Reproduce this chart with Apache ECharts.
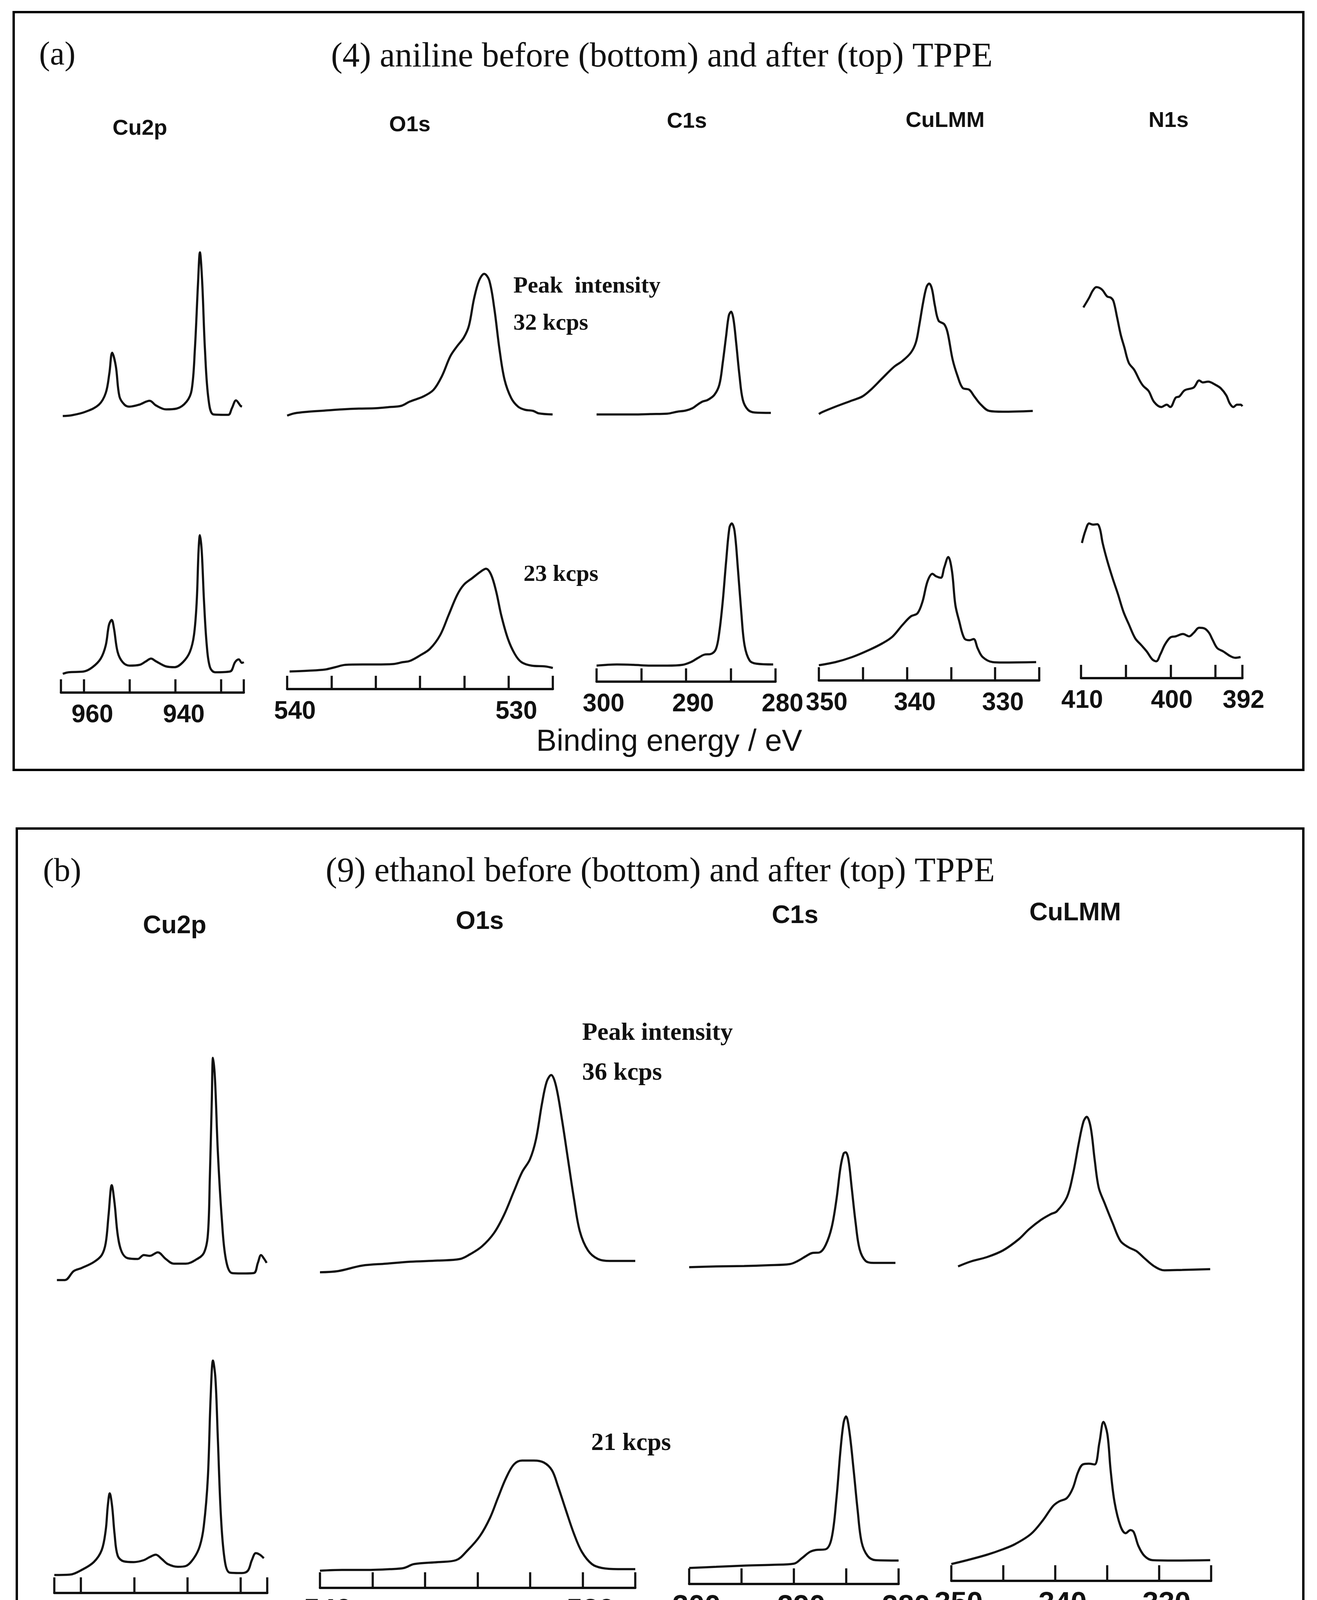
<!DOCTYPE html>
<html>
<head>
<meta charset="utf-8">
<title>XPS spectra before and after TPPE</title>
<script src="https://cdn.jsdelivr.net/npm/echarts@6.0.0/dist/echarts.min.js"></script>
<style>
  html, body { margin: 0; padding: 0; background: #fff; }
  #main { width: 3371px; height: 4363px; }
</style>
</head>
<body>
<div id="main"></div>
<script>
// ---- (a) aniline: [binding energy eV, intensity a.u.] ----
var cu2pA_after = [[964.6,35],[962.6,37],[959.6,46],[956.7,64],[955.2,94],[954.4,145],[953.8,197],[953.0,163],[952.2,85],[951.1,64],[950.0,59],[947.9,64],[945.6,74],[944.2,62],[942.0,52],[939.7,54],[937.5,72],[936.4,102],[935.7,206],[935.0,378],[934.6,454],[934.1,378],[933.5,206],[932.7,76],[931.6,39],[928.4,38],[927.6,55],[926.7,75],[925.7,61],[925.4,59]];
var cu2pA_before = [[964.6,48],[963.3,52],[960.0,54],[958.1,65],[956.3,87],[955.2,121],[954.5,173],[953.9,186],[953.4,164],[952.6,104],[951.5,78],[950.0,69],[947.8,71],[946.4,80],[945.3,87],[944.2,80],[942.0,67],[940.1,65],[938.3,78],[936.8,104],[935.9,147],[935.3,233],[934.9,362],[934.6,403],[934.2,362],[933.7,233],[933.1,121],[932.4,65],[931.3,52],[928.0,54],[926.9,78],[926.1,85],[925.4,76],[925.0,78]];
var o1sA_after = [[540.0,36],[539.66,42],[539.05,46],[538.29,49],[537.52,52],[536.76,54],[535.99,55],[535.38,58],[534.85,61],[534.46,72],[533.85,85],[533.39,102],[533.01,137],[532.63,188],[532.32,214],[532.02,236],[531.79,266],[531.56,335],[531.33,382],[531.10,399],[530.87,382],[530.64,309],[530.41,206],[530.18,128],[529.88,81],[529.57,59],[529.26,51],[528.88,48],[528.65,42],[528.01,39]];
var o1sA_before = [[539.89,45],[539.05,47],[538.29,50],[537.83,56],[537.37,62],[536.60,63],[535.99,63],[535.23,64],[534.77,69],[534.46,72],[534.00,86],[533.55,103],[533.09,138],[532.71,189],[532.32,241],[532.02,267],[531.64,284],[531.25,301],[531.02,308],[530.79,293],[530.56,250],[530.33,189],[530.03,129],[529.72,90],[529.42,69],[528.96,60],[528.35,58],[528.0,54]];
var c1sA_after = [[300.0,39],[297.74,39],[295.86,39],[293.98,40],[292.10,41],[290.98,46],[290.04,49],[289.28,55],[288.72,64],[288.16,72],[287.59,76],[286.84,89],[286.28,115],[285.90,171],[285.52,240],[285.22,292],[284.96,302],[284.70,283],[284.40,223],[284.02,137],[283.65,76],[283.08,51],[282.33,44],[280.52,43]];
var c1sA_before = [[300.0,41],[297.74,44],[295.86,43],[293.98,41],[292.10,41],[290.41,43],[289.47,50],[288.72,60],[287.97,69],[287.20,71],[286.65,84],[286.28,127],[285.90,205],[285.52,308],[285.15,394],[284.89,405],[284.58,386],[284.21,291],[283.83,179],[283.46,93],[282.89,54],[282.14,46],[280.26,44]];
var culmmA_after = [[350.0,40],[349.62,45],[348.11,59],[346.21,75],[345.07,85],[344.12,102],[342.79,132],[341.47,161],[340.52,176],[339.57,197],[339.00,223],[338.62,266],[338.17,326],[337.79,365],[337.49,374],[337.18,361],[336.84,318],[336.42,279],[335.78,270],[335.40,249],[334.83,180],[334.26,137],[333.69,107],[332.93,102],[332.36,85],[331.61,64],[330.66,48],[329.14,46],[325.73,48]];
var culmmA_before = [[350.0,39],[348.11,47],[346.21,60],[344.31,78],[342.80,95],[341.66,112],[340.52,142],[339.57,164],[338.81,172],[338.24,202],[337.67,254],[337.11,273],[336.73,267],[336.16,263],[335.78,289],[335.32,316],[334.90,280],[334.52,194],[334.07,151],[333.50,108],[332.93,103],[332.44,106],[331.98,82],[331.42,60],[330.28,47],[329.14,46],[325.35,47]];
var n1sA_after = [[409.74,313],[409.09,338],[408.69,356],[408.29,365],[407.68,359],[407.08,341],[406.68,338],[406.38,329],[405.98,288],[405.57,243],[405.17,211],[404.67,171],[404.06,153],[403.46,126],[403.06,112],[402.46,99],[401.85,71],[401.05,58],[400.44,64],[400.04,58],[399.44,82],[399.04,85],[398.43,101],[397.43,108],[396.82,126],[396.42,121],[395.82,123],[395.01,115],[394.41,106],[393.80,88],[393.40,67],[393.00,58],[392.60,64],[392.20,64],[392.0,60]];
var n1sA_before = [[409.90,346],[409.50,378],[409.09,396],[408.69,393],[408.19,394],[407.89,382],[407.59,346],[407.08,301],[406.48,256],[405.88,215],[405.27,170],[404.67,138],[403.96,102],[403.26,84],[402.66,68],[402.05,48],[401.61,43],[401.15,61],[400.64,86],[400.04,104],[399.44,107],[398.63,113],[397.93,107],[397.43,116],[396.82,129],[396.22,127],[395.72,116],[395.32,98],[394.81,77],[394.11,68],[393.40,57],[392.80,52],[392.20,54]];

// ---- (b) ethanol ----
var cu2pB_after = [[964.51,23],[963.01,23],[961.35,46],[959.85,54],[957.59,69],[956.09,87],[955.34,118],[954.81,189],[954.21,266],[953.68,220],[953.08,138],[952.33,95],[951.20,79],[949.32,77],[948.19,87],[947.07,85],[945.56,94],[944.06,77],[942.55,65],[940.30,65],[938.42,75],[936.92,92],[936.16,138],[935.79,281],[935.41,485],[935.19,592],[934.81,536],[934.28,352],[933.53,179],[932.78,77],[931.65,41],[929.77,40],[927.51,41],[926.76,67],[926.16,87],[925.56,77],[925.11,67]];
var cu2pB_before = [[965.0,46],[962.10,47],[959.85,59],[957.59,79],[956.09,110],[955.34,161],[954.96,222],[954.59,255],[954.14,222],[953.68,151],[953.08,95],[951.95,81],[950.07,79],[948.19,84],[947.07,92],[945.94,98],[944.81,87],[943.68,74],[941.80,67],[940.30,69],[938.79,89],[937.67,120],[936.92,171],[936.16,294],[935.64,498],[935.19,595],[934.73,549],[934.28,396],[933.68,192],[932.93,79],[932.03,52],[929.77,51],[928.64,57],[927.89,84],[927.14,102],[926.39,98],[925.64,89]];
var o1sB_after = [[540.0,43],[539.31,46],[538.40,60],[537.49,65],[536.57,70],[535.51,73],[534.67,77],[534.29,89],[533.84,109],[533.38,143],[533.00,189],[532.62,250],[532.31,299],[532.01,332],[531.78,383],[531.55,475],[531.37,531],[531.20,548],[531.02,521],[530.79,434],[530.56,332],[530.33,230],[530.11,148],[529.80,99],[529.42,77],[528.97,72],[528.0,72]];
var o1sB_before = [[540.0,44],[539.16,46],[538.25,46],[537.34,48],[536.80,51],[536.42,61],[535.51,66],[534.82,71],[534.37,97],[533.91,133],[533.53,179],[533.23,230],[532.92,281],[532.62,316],[532.31,326],[531.86,326],[531.48,321],[531.17,301],[530.94,260],[530.64,199],[530.33,138],[530.03,92],[529.65,61],[529.27,51],[528.66,48],[528.0,48]];
var c1sB_after = [[300.0,56],[297.42,58],[294.75,59],[292.47,61],[290.38,64],[289.62,72],[288.86,84],[288.29,92],[287.53,94],[286.96,113],[286.39,158],[285.93,230],[285.55,311],[285.25,347],[285.05,350],[284.79,332],[284.48,260],[284.10,169],[283.72,102],[283.15,72],[282.39,67],[280.30,67]];
var c1sB_before = [[300.0,41],[297.42,44],[294.75,47],[292.09,49],[290.00,52],[289.24,66],[288.48,82],[287.91,87],[286.96,89],[286.39,118],[285.93,220],[285.55,342],[285.25,413],[285.02,429],[284.71,393],[284.29,291],[283.91,189],[283.53,107],[282.96,72],[282.20,61],[280.0,60]];
var culmmB_after = [[349.35,58],[348.08,71],[346.55,82],[345.02,99],[343.49,128],[342.53,153],[341.38,177],[340.42,192],[339.85,199],[338.88,235],[338.31,291],[337.74,373],[337.28,429],[336.97,441],[336.59,414],[336.21,332],[335.82,260],[335.25,220],[334.48,169],[333.72,123],[332.95,107],[332.18,97],[331.42,79],[330.46,58],[329.50,48],[327.78,49],[325.09,51]];
var culmmB_before = [[350.0,43],[348.47,53],[346.55,67],[345.02,81],[343.87,94],[342.34,120],[341.19,155],[340.23,191],[339.65,203],[338.88,212],[338.31,237],[337.81,278],[337.35,298],[336.78,300],[336.21,298],[335.75,354],[335.36,407],[334.98,375],[334.67,283],[334.29,201],[333.72,140],[333.22,122],[332.76,130],[332.45,125],[331.99,89],[331.42,64],[330.65,53],[328.54,52],[325.09,53]];

// ---- axes: ranges, tick marks and labelled ticks ----
var cu2pRange = [925, 965], cu2pTicks = [965, 960, 950, 940, 930, 925], cu2pLabels = [960, 940];
var o1sRange = [528, 540], o1sTicks = [540, 538, 536, 534, 532, 530, 528], o1sLabels = [540, 530];
var c1sRange = [280, 300], c1sTicks = [300, 295, 290, 285, 280], c1sLabels = [300, 290, 280];
var culmmRange = [325, 350], culmmTicks = [350, 345, 340, 335, 330, 325], culmmLabels = [350, 340, 330];
var n1sRange = [392, 410], n1sTicks = [410, 405, 400, 395, 392], n1sLabels = [410, 400, 392];

var SANS = "'Liberation Sans', Arial, sans-serif";
var SERIF = "'Liberation Serif', 'Times New Roman', serif";
var INK = '#111';

var panelA = {
    topRow: { top: 600, height: 500 }, rowH: 500,
    font: 64, tickLen: 34, margin: 26,
    cols: [
        { after: cu2pA_after, before: cu2pA_before, range: cu2pRange, ticks: cu2pTicks, labels: cu2pLabels, left: 156, right: 624, axisY: 1773, shift: 22 },
        { after: o1sA_after, before: o1sA_before, range: o1sRange, ticks: o1sTicks, labels: o1sLabels, left: 735, right: 1415, axisY: 1764, shift: 20 },
        { after: c1sA_after, before: c1sA_before, range: c1sRange, ticks: c1sTicks, labels: c1sLabels, left: 1527, right: 1985, axisY: 1745, shift: 18 },
        { after: culmmA_after, before: culmmA_before, range: culmmRange, ticks: culmmTicks, labels: culmmLabels, left: 2096, right: 2660, axisY: 1742, shift: 20 },
        { after: n1sA_after, before: n1sA_before, range: n1sRange, ticks: n1sTicks, labels: n1sLabels, left: 2767, right: 3180, axisY: 1736, shift: 3 }
    ]
};
var panelB = {
    topRow: { top: 2650, height: 650 }, rowH: 650,
    font: 74, tickLen: 40, margin: 23,
    cols: [
        { after: cu2pB_after, before: cu2pB_before, range: cu2pRange, ticks: cu2pTicks, labels: cu2pLabels, left: 139, right: 684, axisY: 4078, shift: 25 },
        { after: o1sB_after, before: o1sB_before, range: o1sRange, ticks: o1sTicks, labels: o1sLabels, left: 819, right: 1626, axisY: 4065, shift: 20 },
        { after: c1sB_after, before: c1sB_before, range: c1sRange, ticks: c1sTicks, labels: c1sLabels, left: 1764, right: 2300, axisY: 4055, shift: 19 },
        { after: culmmB_after, before: culmmB_before, range: culmmRange, ticks: culmmTicks, labels: culmmLabels, left: 2435, right: 3100, axisY: 4047, shift: 19 }
    ]
};

var grids = [], xAxes = [], yAxes = [], series = [];

function addSpectrum(c, top, height, data, withAxis, p) {
    var i = grids.length;
    grids.push({ left: c.left, top: top, width: c.right - c.left, height: height, containLabel: false, outerBoundsMode: 'none' });
    var xa = {
        type: 'value', gridIndex: i, min: c.range[0], max: c.range[1], inverse: true,
        splitLine: { show: false }
    };
    if (withAxis) {
        xa.axisLine = { show: true, onZero: false, lineStyle: { color: INK, width: 6 } };
        xa.axisTick = { show: true, inside: true, length: p.tickLen, customValues: c.ticks, lineStyle: { color: INK, width: 5.5 } };
        xa.axisLabel = {
            show: true, customValues: c.labels, margin: p.margin, color: INK,
            fontFamily: SANS, fontWeight: 'bold', fontSize: p.font, padding: [0, 0, 0, 2 * c.shift],
            alignMinLabel: 'center', alignMaxLabel: 'center'
        };
    } else {
        xa.show = false;
    }
    xAxes.push(xa);
    yAxes.push({ type: 'value', gridIndex: i, min: 0, max: height, show: false });
    series.push({
        type: 'line', xAxisIndex: i, yAxisIndex: i, data: data,
        showSymbol: false, smooth: 0.35, silent: true,
        lineStyle: { color: INK, width: 5.5 }
    });
}

[panelA, panelB].forEach(function (p) {
    p.cols.forEach(function (c) {
        addSpectrum(c, p.topRow.top, p.topRow.height, c.after, false, p);
        addSpectrum(c, c.axisY - p.rowH, p.rowH, c.before, true, p);
    });
});

function txt(s, x, y, font, align) {
    return { type: 'text', x: x, y: y, silent: true,
        style: { text: s, font: font, fill: INK, textAlign: align || 'center', textVerticalAlign: 'middle' } };
}

var elements = [
    { type: 'rect', shape: { x: 35, y: 31, width: 3301, height: 1940 }, style: { fill: 'none', stroke: '#000', lineWidth: 6 } },
    { type: 'rect', shape: { x: 43, y: 2121, width: 3293, height: 2207 }, style: { fill: 'none', stroke: '#000', lineWidth: 6 } },

    txt('(a)', 100, 143, '84px ' + SERIF, 'left'),
    txt('(4) aniline before (bottom) and after (top) TPPE', 1694, 147, '88px ' + SERIF),
    txt('Cu2p', 358, 330, 'bold 56px ' + SANS),
    txt('O1s', 1049, 321, 'bold 56px ' + SANS),
    txt('C1s', 1758, 312, 'bold 56px ' + SANS),
    txt('CuLMM', 2419, 310, 'bold 56px ' + SANS),
    txt('N1s', 2991, 310, 'bold 56px ' + SANS),
    txt('Peak  intensity', 1314, 733, 'bold 60px ' + SERIF, 'left'),
    txt('32 kcps', 1314, 828, 'bold 60px ' + SERIF, 'left'),
    txt('23 kcps', 1340, 1471, 'bold 60px ' + SERIF, 'left'),
    txt('Binding energy / eV', 1713, 1900, '78px ' + SANS),

    txt('(b)', 110, 2233, '84px ' + SERIF, 'left'),
    txt('(9) ethanol before (bottom) and after (top) TPPE', 1690, 2233, '88px ' + SERIF),
    txt('Cu2p', 447, 2371, 'bold 65px ' + SANS),
    txt('O1s', 1228, 2360, 'bold 65px ' + SANS),
    txt('C1s', 2035, 2345, 'bold 65px ' + SANS),
    txt('CuLMM', 2752, 2338, 'bold 65px ' + SANS),
    txt('Peak intensity', 1490, 2645, 'bold 64px ' + SERIF, 'left'),
    txt('36 kcps', 1490, 2747, 'bold 64px ' + SERIF, 'left'),
    txt('21 kcps', 1513, 3695, 'bold 64px ' + SERIF, 'left'),
    txt('Binding energy / eV', 1666, 4249, '92px ' + SANS)
];

var chart = echarts.init(document.getElementById('main'));
chart.setOption({
    backgroundColor: '#fff',
    animation: false,
    grid: grids,
    xAxis: xAxes,
    yAxis: yAxes,
    series: series,
    graphic: { elements: elements }
});
</script>
</body>
</html>
